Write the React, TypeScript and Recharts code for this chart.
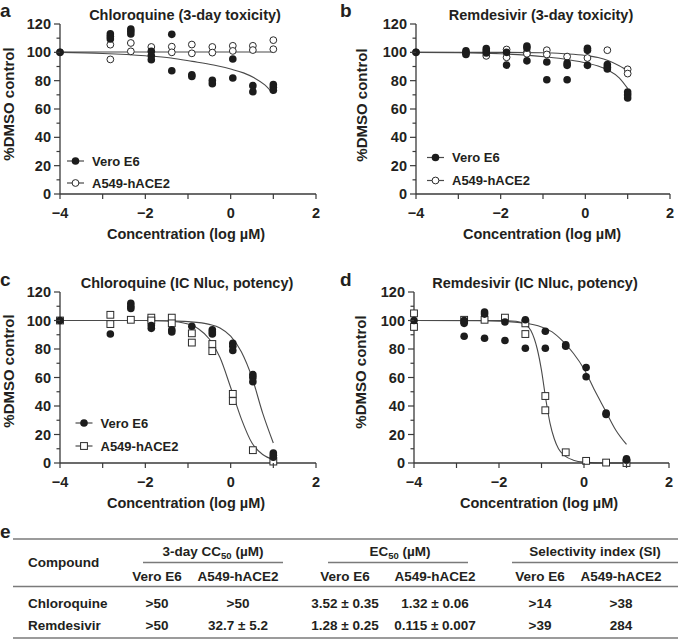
import React from 'react';
import { ComposedChart, XAxis, YAxis, Line, Scatter } from 'recharts';

type P = [number, number];

const FONT = '"Liberation Sans", Arial, Helvetica, sans-serif';
const TXT = '#231f20';
const AX = '#3a3a3a';
const FIT = '#4a4a4a';

const xTicks = [-4, -3, -2, -1, 0, 1, 2];
const yTicks = [0, 10, 20, 30, 40, 50, 60, 70, 80, 90, 100, 110, 120];
const seriesNames = ['Vero E6', 'A549-hACE2'];
const panelLetters = ['a', 'b', 'c', 'd', 'e'];
const panelTitles = [
  'Chloroquine (3-day toxicity)',
  'Remdesivir (3-day toxicity)',
  'Chloroquine (IC Nluc, potency)',
  'Remdesivir (IC Nluc, potency)',
];
const xLabel = 'Concentration (log \u00b5M)';
const yLabel = '%DMSO control';

// ---- Panel a: Chloroquine toxicity ----
const aVero: P[] = [
  [-4, 100],
  [-2.82, 113], [-2.82, 111.2], [-2.82, 109.5],
  [-2.34, 116.5], [-2.34, 114.8], [-2.34, 112.9],
  [-1.86, 100.7], [-1.86, 97.6], [-1.86, 94.8],
  [-1.38, 112.7], [-1.38, 87],
  [-0.91, 84.2], [-0.91, 83],
  [-0.43, 80.2], [-0.43, 77.9],
  [0.05, 95.3], [0.05, 81.9],
  [0.52, 76.5], [0.52, 72.2],
  [1.0, 77.2], [1.0, 75.3], [1.0, 73.2],
];
const aA549: P[] = [
  [-4, 100],
  [-2.82, 105.4], [-2.82, 95],
  [-2.34, 106.6], [-2.34, 100.7],
  [-1.86, 103.8],
  [-1.38, 104], [-1.38, 100],
  [-0.91, 105.5], [-0.91, 99.3],
  [-0.43, 103.8], [-0.43, 99.8],
  [0.05, 104.6], [0.05, 101],
  [0.52, 104.6], [0.52, 101.6],
  [1.0, 108.6], [1.0, 102.2],
];
const aVeroFit: P[] = [
  [-4, 100], [-3, 99.2], [-2, 97.6], [-1.4, 96], [-0.9, 93.6], [-0.4, 91],
  [0, 88.2], [0.3, 85.5], [0.55, 82], [0.8, 77], [1.0, 70.6],
];
const aA549Fit: P[] = [[-4, 100.2], [-2, 100.2], [0, 100.2], [1.0, 100.2]];

// ---- Panel b: Remdesivir toxicity ----
const bVero: P[] = [
  [-4, 100],
  [-2.82, 101], [-2.82, 99.5], [-2.82, 98.5],
  [-2.34, 102.6], [-2.34, 101], [-2.34, 99.5],
  [-1.86, 100], [-1.86, 91],
  [-1.38, 104.5], [-1.38, 103], [-1.38, 94],
  [-0.91, 93.2], [-0.91, 80.7],
  [-0.43, 92.5], [-0.43, 90.8], [-0.43, 80.7],
  [0.05, 102.8], [0.05, 101.4], [0.05, 90.8],
  [0.52, 91.3], [0.52, 89.4], [0.52, 88.2],
  [1.0, 72], [1.0, 70.1], [1.0, 67.8],
];
const bA549: P[] = [
  [-4, 100],
  [-2.82, 100],
  [-2.34, 97.5],
  [-1.86, 102], [-1.86, 96.5],
  [-1.38, 100], [-1.38, 99],
  [-0.91, 101.5], [-0.91, 98.5],
  [-0.43, 97],
  [0.05, 96],
  [0.52, 101.5],
  [1.0, 88], [1.0, 85],
];
const bVeroFit: P[] = [
  [-4, 100], [-3, 99.8], [-2, 99], [-1.4, 98], [-0.9, 96.7], [-0.4, 94.8],
  [0.05, 92.3], [0.3, 90.3], [0.55, 87.2], [0.8, 82], [1.0, 74.5],
];
const bA549Fit: P[] = [
  [-4, 100], [-2, 100], [-1, 99.7], [-0.5, 99], [0, 97.8], [0.3, 96.3],
  [0.55, 94], [0.8, 90.5], [1.0, 87],
];

// ---- Panel c: Chloroquine potency ----
const cVero: P[] = [
  [-4, 100],
  [-2.82, 90.5],
  [-2.34, 112], [-2.34, 110], [-2.34, 108.5],
  [-1.86, 96.5], [-1.86, 94.5],
  [-1.38, 93.5], [-1.38, 92],
  [-0.91, 96],
  [-0.43, 93.5], [-0.43, 92], [-0.43, 90.5],
  [0.05, 84], [0.05, 82], [0.05, 79],
  [0.52, 62], [0.52, 60], [0.52, 57],
  [1.0, 7], [1.0, 5.5], [1.0, 4],
];
const cA549: P[] = [
  [-4, 100],
  [-2.82, 104], [-2.82, 97.5],
  [-2.34, 100.5],
  [-1.86, 102], [-1.86, 100],
  [-1.38, 102], [-1.38, 98],
  [-0.91, 91], [-0.91, 84.5],
  [-0.43, 83.5], [-0.43, 78.5],
  [0.05, 48.5], [0.05, 43.5],
  [0.52, 9],
  [1.0, 1],
];
const cVeroFit: P[] = [
  [-4, 100], [-2, 100], [-1.5, 99.8], [-1, 99.2], [-0.5, 97.3], [-0.25, 94.8],
  [0, 89], [0.25, 78], [0.5, 60], [0.75, 35], [1.0, 14],
];
const cA549Fit: P[] = [
  [-4, 100], [-2, 100], [-1.5, 99.6], [-1, 97.5], [-0.75, 94], [-0.5, 87],
  [-0.25, 74], [0, 53], [0.25, 31], [0.5, 14], [0.75, 6], [1.0, 2.5],
];

// ---- Panel d: Remdesivir potency ----
const dVero: P[] = [
  [-4, 100],
  [-2.82, 100], [-2.82, 98], [-2.82, 89],
  [-2.34, 106], [-2.34, 104.5], [-2.34, 87.5],
  [-1.86, 99], [-1.86, 86],
  [-1.38, 100.5], [-1.38, 80.5],
  [-0.91, 92.5], [-0.91, 80.5],
  [-0.43, 83], [-0.43, 82],
  [0.05, 67], [0.05, 60.5],
  [0.52, 35], [0.52, 34],
  [1.0, 3], [1.0, 2],
];
const dA549: P[] = [
  [-4, 105], [-4, 95.5],
  [-2.82, 100.5],
  [-2.34, 100.5],
  [-1.86, 102],
  [-1.38, 98], [-1.38, 90.5],
  [-0.91, 47], [-0.91, 37],
  [-0.43, 7.5],
  [0.05, 1.5],
  [0.52, 0.3],
  [1.0, 0],
];
const dVeroFit: P[] = [
  [-4, 100], [-2.5, 99.8], [-2, 99.5], [-1.5, 98.5], [-1, 95.5], [-0.75, 92],
  [-0.5, 85.5], [-0.25, 77], [0, 66], [0.25, 51], [0.5, 37], [0.75, 23], [1.0, 13],
];
const dA549Fit: P[] = [
  [-4, 100], [-2, 100], [-1.6, 99.5], [-1.4, 97.5], [-1.25, 93], [-1.1, 80],
  [-1, 65], [-0.9, 45], [-0.8, 28], [-0.7, 17], [-0.6, 10], [-0.45, 5],
  [-0.25, 2], [0, 0.6], [0.5, 0], [1.0, 0],
];

// ---- Table e ----
const tableGroups = ['3-day CC', 'EC', 'Selectivity index (SI)'];
const unitText = ' (\u00b5M)';
const compounds = ['Chloroquine', 'Remdesivir'];
const tableRows: string[][] = [
  ['>50', '>50', '3.52 \u00b1 0.35', '1.32 \u00b1 0.06', '>14', '>38'],
  ['>50', '32.7 \u00b1 5.2', '1.28 \u00b1 0.25', '0.115 \u00b1 0.007', '>39', '284'],
];

const toPts = (arr: P[]) => arr.map(([x, y]) => ({ x, y }));
const fmt = (v: number) => (v < 0 ? '\u2212' + Math.abs(v) : String(v));

const XTick = (p: any) => {
  const { x, y, payload } = p;
  const v = payload.value;
  const major = v % 2 === 0;
  return (
    <g>
      <line x1={x} x2={x} y1={y} y2={y + 5} stroke={AX} strokeWidth={1.2} />
      {major && (
        <text x={x} y={y + 24} textAnchor="middle" fontFamily={FONT} fontWeight="bold" fontSize={14.5} fill={TXT}>
          {fmt(v)}
        </text>
      )}
    </g>
  );
};

const YTick = (p: any) => {
  const { x, y, payload } = p;
  const v = payload.value;
  const major = v % 20 === 0;
  return (
    <g>
      <line x1={x} x2={x - (major ? 6 : 3.5)} y1={y} y2={y} stroke={AX} strokeWidth={1.2} />
      {major && (
        <text x={x - 9} y={y + 5} textAnchor="end" fontFamily={FONT} fontWeight="bold" fontSize={14.5} fill={TXT}>
          {v}
        </text>
      )}
    </g>
  );
};

const FilledCircle = (p: any) => <circle cx={p.cx} cy={p.cy} r={3.8} fill="#1c1c1c" />;
const OpenCircle = (p: any) => <circle cx={p.cx} cy={p.cy} r={3.4} fill="#fff" stroke="#2a2a2a" strokeWidth={1} />;
const OpenSquare = (p: any) => (
  <rect x={p.cx - 3.4} y={p.cy - 3.4} width={6.8} height={6.8} fill="#fff" stroke="#2a2a2a" strokeWidth={1} />
);

function Panel(props: {
  left: number; top: number; width: number; height: number;
  vero: P[]; a549: P[]; veroFit: P[]; a549Fit: P[]; a549Shape: any;
}) {
  const { left, top, width, height, vero, a549, veroFit, a549Fit, a549Shape } = props;
  return (
    <div style={{ position: 'absolute', left, top }}>
      <ComposedChart width={width} height={height} margin={{ top: 24, right: 14, bottom: 0, left: 0 }}>
        <XAxis
          type="number" dataKey="x" domain={[-4, 2]} ticks={xTicks} interval={0}
          tick={(t: any) => <XTick {...t} />} tickLine={false} tickSize={0} tickMargin={0}
          axisLine={{ stroke: AX, strokeWidth: 1.3 }} height={30}
        />
        <YAxis
          type="number" dataKey="y" domain={[0, 120]} ticks={yTicks} interval={0}
          tick={(t: any) => <YTick {...t} />} tickLine={false} tickSize={0} tickMargin={0}
          axisLine={{ stroke: AX, strokeWidth: 1.3 }} width={60}
        />
        <Line data={toPts(veroFit)} dataKey="y" type="monotone" stroke={FIT} strokeWidth={1.1} dot={false} isAnimationActive={false} />
        <Line data={toPts(a549Fit)} dataKey="y" type="monotone" stroke={FIT} strokeWidth={1.1} dot={false} isAnimationActive={false} />
        <Scatter data={toPts(a549)} shape={a549Shape} isAnimationActive={false} />
        <Scatter data={toPts(vero)} shape={FilledCircle} isAnimationActive={false} />
      </ComposedChart>
    </div>
  );
}

const T = (p: any) => (
  <text fontFamily={FONT} fontWeight="bold" fill={TXT} {...p} />
);

function Legend({ x, y1, y2, square }: { x: number; y1: number; y2: number; square?: boolean }) {
  const mx = x + 8.5;
  return (
    <g>
      <line x1={x} x2={x + 17} y1={y1} y2={y1} stroke={FIT} strokeWidth={1.2} />
      <circle cx={mx} cy={y1} r={3.8} fill="#1c1c1c" />
      <T x={x + 25} y={y1 + 4.7} fontSize={13}>{seriesNames[0]}</T>
      <line x1={x} x2={x + 17} y1={y2} y2={y2} stroke={FIT} strokeWidth={1.2} />
      {square ? (
        <rect x={mx - 3.4} y={y2 - 3.4} width={6.8} height={6.8} fill="#fff" stroke="#2a2a2a" strokeWidth={1} />
      ) : (
        <circle cx={mx} cy={y2} r={3.4} fill="#fff" stroke="#2a2a2a" strokeWidth={1} />
      )}
      <T x={x + 25} y={y2 + 4.7} fontSize={13}>{seriesNames[1]}</T>
    </g>
  );
}

function YLabel({ cx, cy }: { cx: number; cy: number }) {
  return (
    <T transform={`translate(${cx},${cy}) rotate(-90)`} textAnchor="middle" dy="0.36em" fontSize={15}>
      {yLabel}
    </T>
  );
}

export default function App() {
  const colX = [157, 238, 345, 435, 540, 621];
  const lineC = '#7a7a7a';
  const rowY = [607.5, 630];
  return (
    <div style={{ position: 'absolute', left: 0, top: 0, width: 685, height: 639, background: '#fff', overflow: 'hidden' }}>
      <Panel left={0} top={0} width={330} height={224} vero={aVero} a549={aA549} veroFit={aVeroFit} a549Fit={aA549Fit} a549Shape={OpenCircle} />
      <Panel left={356} top={0} width={328} height={224} vero={bVero} a549={bA549} veroFit={bVeroFit} a549Fit={bA549Fit} a549Shape={OpenCircle} />
      <Panel left={0} top={268} width={330} height={225} vero={cVero} a549={cA549} veroFit={cVeroFit} a549Fit={cA549Fit} a549Shape={OpenSquare} />
      <Panel left={354} top={268} width={329} height={225} vero={dVero} a549={dA549} veroFit={dVeroFit} a549Fit={dA549Fit} a549Shape={OpenSquare} />
      <svg width={685} height={639} style={{ position: 'absolute', left: 0, top: 0, pointerEvents: 'none' }}>
        {/* panel letters */}
        <T x={0} y={17} fontSize={19}>{panelLetters[0]}</T>
        <T x={340} y={17} fontSize={19}>{panelLetters[1]}</T>
        <T x={0} y={286} fontSize={19}>{panelLetters[2]}</T>
        <T x={340} y={286} fontSize={19}>{panelLetters[3]}</T>
        <T x={0} y={538} fontSize={19}>{panelLetters[4]}</T>
        {/* titles */}
        <T x={185} y={19.5} textAnchor="middle" fontSize={14.5}>{panelTitles[0]}</T>
        <T x={541} y={19.5} textAnchor="middle" fontSize={14.5}>{panelTitles[1]}</T>
        <T x={187} y={287.5} textAnchor="middle" fontSize={14.5}>{panelTitles[2]}</T>
        <T x={535} y={287.5} textAnchor="middle" fontSize={14.5}>{panelTitles[3]}</T>
        {/* axis labels */}
        <YLabel cx={8.5} cy={104} />
        <YLabel cx={362} cy={105} />
        <YLabel cx={8.5} cy={371} />
        <YLabel cx={361} cy={372} />
        <T x={186} y={239} textAnchor="middle" fontSize={14.5}>{xLabel}</T>
        <T x={542} y={239} textAnchor="middle" fontSize={14.5}>{xLabel}</T>
        <T x={186} y={508} textAnchor="middle" fontSize={14.5}>{xLabel}</T>
        <T x={539} y={508} textAnchor="middle" fontSize={14.5}>{xLabel}</T>
        {/* legends */}
        <Legend x={67} y1={161} y2={183} />
        <Legend x={427} y1={157.5} y2={180.5} />
        <Legend x={75.5} y1={423} y2={446} square />

        {/* table */}
        <line x1={13} x2={678} y1={539} y2={539} stroke={lineC} strokeWidth={1.4} />
        <T x={213} y={556} textAnchor="middle" fontSize={13.5}>
          {tableGroups[0]}<tspan fontSize={9.5} dy={3}>50</tspan><tspan dy={-3}>{unitText}</tspan>
        </T>
        <T x={400} y={556} textAnchor="middle" fontSize={13.5}>
          {tableGroups[1]}<tspan fontSize={9.5} dy={3}>50</tspan><tspan dy={-3}>{unitText}</tspan>
        </T>
        <T x={595} y={556} textAnchor="middle" fontSize={13.5}>{tableGroups[2]}</T>
        <line x1={143} x2={283} y1={562.5} y2={562.5} stroke={lineC} strokeWidth={1.3} />
        <line x1={328} x2={468} y1={562.5} y2={562.5} stroke={lineC} strokeWidth={1.3} />
        <line x1={512} x2={678} y1={562.5} y2={562.5} stroke={lineC} strokeWidth={1.3} />
        <T x={28} y={567} fontSize={13.5}>Compound</T>
        {colX.map((cx, i) => (
          <T key={'h' + i} x={cx} y={580.5} textAnchor="middle" fontSize={13.5}>{seriesNames[i % 2]}</T>
        ))}
        <line x1={13} x2={678} y1={586.5} y2={586.5} stroke={lineC} strokeWidth={1.3} />
        {compounds.map((c, r) => (
          <g key={c}>
            <T x={28} y={rowY[r]} fontSize={13.5}>{c}</T>
            {tableRows[r].map((v, i) => (
              <T key={i} x={colX[i]} y={rowY[r]} textAnchor="middle" fontSize={13.5}>{v}</T>
            ))}
          </g>
        ))}
        <line x1={13} x2={678} y1={638} y2={638} stroke={lineC} strokeWidth={1.4} />
      </svg>
    </div>
  );
}
